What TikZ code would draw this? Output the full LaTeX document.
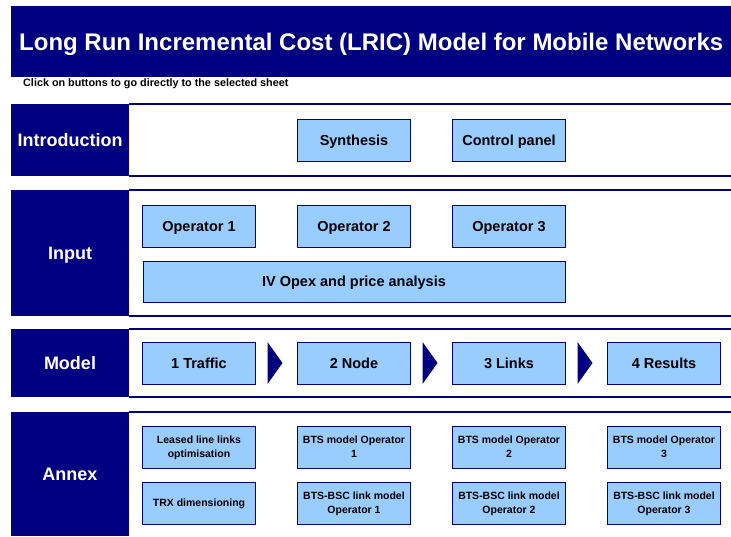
\documentclass[tikz,border=0pt]{standalone}
\usepackage{fontspec}
\setmainfont{Liberation Sans}
\usetikzlibrary{positioning,calc}

\definecolor{lricnavy}{RGB}{0,0,128}
\definecolor{lricblue}{RGB}{153,204,255}

\tikzset{
	head/.style={fill=lricnavy, text=white, font=\bfseries\fontsize{18}{20}\selectfont, minimum width=118pt, anchor=north west, inner sep=0pt, outer sep=0pt, text depth=0pt},
	btn/.style={fill=lricblue, draw=lricnavy, line width=0.6pt, minimum width=113pt, minimum height=42pt, inner sep=0pt, outer sep=0pt, text depth=0pt, font=\bfseries\fontsize{14.5}{17}\selectfont,
		append after command={[draw=lricnavy, line width=1.6pt] (\tikzlastnode.north east) -- (\tikzlastnode.south east) -- (\tikzlastnode.south west)}},
	small/.style={btn, text depth=-3pt, font=\bfseries\fontsize{10.5}{14}\selectfont, align=center},
	band/.style={draw=lricnavy, line width=2pt}
}

\begin{document}
\begin{tikzpicture}[x=1pt, y=-1pt]
	\useasboundingbox (0,0) rectangle (731,536);

	\node (title) [fill=lricnavy, text=white, minimum width=720pt, minimum height=71pt, anchor=north west, inner sep=0pt, text depth=0pt, font=\bfseries\fontsize{24}{28}\selectfont] at (11,6) {Long Run Incremental Cost (LRIC) Model for Mobile Networks};
	\node (hint) [anchor=west, inner sep=0pt, font=\bfseries\fontsize{10.8}{12}\selectfont] at (23,84) {Click on buttons to go directly to the selected sheet};

	% section heads
	\node[head, minimum height=72pt] (intro) at (11,104) {Introduction};
	\node[head, minimum height=126pt] (input) at (11,190) {Input};
	\node[head, minimum height=68pt] (model) at (11,329) {Model};
	\node[head, minimum height=124pt] (annex) at (11,412) {Annex};
	\foreach \s in {intro,input,model,annex}
		\draw[band] (\s.north east) -- (731,0 |- \s.north east);
	\foreach \s in {intro,input,model}
		\draw[band] (\s.south east) -- (731,0 |- \s.south east);

	% introduction
	\node[btn] (synth) at (354,140) {Synthesis};
	\node[btn] (ctrl) [right=42pt of synth] {Control panel};

	% input
	\node[btn] (op1) at (199,226) {Operator 1};
	\node[btn] (op2) [right=42pt of op1] {Operator 2};
	\node[btn] (op3) [right=42pt of op2] {Operator 3};
	\node[btn, minimum width=422pt, minimum height=41pt] (opex) at (354,281.5) {IV Opex and price analysis};

	% model
	\node[btn] (traffic) at (199,363) {1 Traffic};
	\node[btn] (nodecalc) [right=42pt of traffic] {2 Node};
	\node[btn] (links) [right=42pt of nodecalc] {3 Links};
	\node[btn] (results) [right=42pt of links] {4 Results};
	\foreach \a in {traffic,nodecalc,links}
		\fill[lricnavy] ($(\a.north east)+(12pt,0)$) -- ($(\a.east)+(27pt,0)$) -- ($(\a.south east)+(12pt,0)$) -- cycle;

	% annex
	\node[small] (leased) at (199,447) {Leased line links\\optimisation};
	\node[small] (bts1) [right=42pt of leased] {BTS model Operator\\1};
	\node[small] (bts2) [right=42pt of bts1] {BTS model Operator\\2};
	\node[small] (bts3) [right=42pt of bts2] {BTS model Operator\\3};
	\node[small] (trx) at (199,503) {TRX dimensioning};
	\node[small] (bsc1) [right=42pt of trx] {BTS-BSC link model\\Operator 1};
	\node[small] (bsc2) [right=42pt of bsc1] {BTS-BSC link model\\Operator 2};
	\node[small] (bsc3) [right=42pt of bsc2] {BTS-BSC link model\\Operator 3};
\end{tikzpicture}
\end{document}
